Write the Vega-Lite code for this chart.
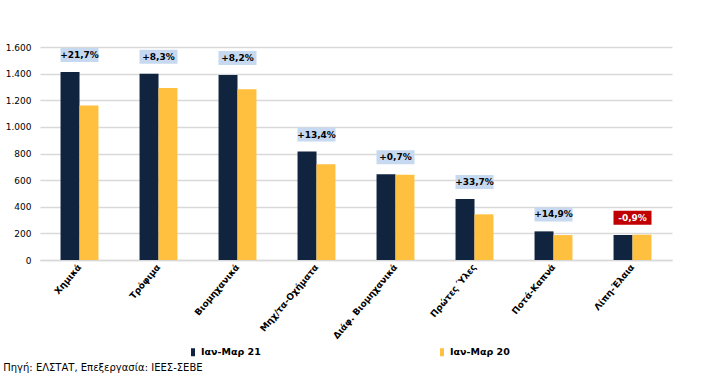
{
  "$schema": "https://vega.github.io/schema/vega-lite/v6.json",
  "width": 632,
  "height": 213,
  "autosize": {"type": "none"},
  "padding": {"left": 40, "top": 47, "right": 36, "bottom": 121},
  "background": "white",
  "config": {
    "locale": {"number": {"decimal": ",", "thousands": ".", "grouping": [3], "currency": ["", "€"]}},
    "view": {"stroke": null},
    "font": "DejaVu Sans"
  },
  "title": {
    "text": "Πηγή: ΕΛΣΤΑΤ, Επεξεργασία: ΙΕΕΣ-ΣΕΒΕ",
    "orient": "bottom",
    "anchor": "start",
    "frame": "bounds",
    "fontSize": 10,
    "fontWeight": "normal",
    "color": "#000000",
    "offset": 6,
    "dx": -2
  },
  "datasets": {
    "bars": [
      {"cat": "Χημικά", "period": "Ιαν-Μαρ 21", "value": 1412},
      {"cat": "Χημικά", "period": "Ιαν-Μαρ 20", "value": 1160},
      {"cat": "Τρόφιμα", "period": "Ιαν-Μαρ 21", "value": 1400},
      {"cat": "Τρόφιμα", "period": "Ιαν-Μαρ 20", "value": 1292},
      {"cat": "Βιομηχανικά", "period": "Ιαν-Μαρ 21", "value": 1389},
      {"cat": "Βιομηχανικά", "period": "Ιαν-Μαρ 20", "value": 1283},
      {"cat": "Μηχ/τα-Οχήματα", "period": "Ιαν-Μαρ 21", "value": 815},
      {"cat": "Μηχ/τα-Οχήματα", "period": "Ιαν-Μαρ 20", "value": 719},
      {"cat": "Διάφ. Βιομηχανικά", "period": "Ιαν-Μαρ 21", "value": 645},
      {"cat": "Διάφ. Βιομηχανικά", "period": "Ιαν-Μαρ 20", "value": 641},
      {"cat": "Πρώτες Ύλες", "period": "Ιαν-Μαρ 21", "value": 459},
      {"cat": "Πρώτες Ύλες", "period": "Ιαν-Μαρ 20", "value": 343},
      {"cat": "Ποτά-Καπνά", "period": "Ιαν-Μαρ 21", "value": 215},
      {"cat": "Ποτά-Καπνά", "period": "Ιαν-Μαρ 20", "value": 187},
      {"cat": "Λίπη-Έλαια", "period": "Ιαν-Μαρ 21", "value": 188},
      {"cat": "Λίπη-Έλαια", "period": "Ιαν-Μαρ 20", "value": 190}
    ],
    "labels": [
      {"cat": "Χημικά", "label": "+21,7%", "change": 21.7, "value": 1412},
      {"cat": "Τρόφιμα", "label": "+8,3%", "change": 8.3, "value": 1400},
      {"cat": "Βιομηχανικά", "label": "+8,2%", "change": 8.2, "value": 1389},
      {"cat": "Μηχ/τα-Οχήματα", "label": "+13,4%", "change": 13.4, "value": 815},
      {"cat": "Διάφ. Βιομηχανικά", "label": "+0,7%", "change": 0.7, "value": 645},
      {"cat": "Πρώτες Ύλες", "label": "+33,7%", "change": 33.7, "value": 459},
      {"cat": "Ποτά-Καπνά", "label": "+14,9%", "change": 14.9, "value": 215},
      {"cat": "Λίπη-Έλαια", "label": "-0,9%", "change": -0.9, "value": 190}
    ]
  },
  "encoding": {
    "x": {
      "field": "cat",
      "type": "nominal",
      "sort": ["Χημικά", "Τρόφιμα", "Βιομηχανικά", "Μηχ/τα-Οχήματα", "Διάφ. Βιομηχανικά", "Πρώτες Ύλες", "Ποτά-Καπνά", "Λίπη-Έλαια"],
      "scale": {"paddingInner": 0.52, "paddingOuter": 0.26},
      "axis": {
        "title": null,
        "ticks": false,
        "domainColor": "#d9d9d9",
        "domainWidth": 1.5,
        "labelAngle": -50,
        "labelFontWeight": "bold",
        "labelFontSize": 9,
        "labelColor": "#000000",
        "labelPadding": 5
      }
    },
    "y": {
      "field": "value",
      "type": "quantitative",
      "scale": {"domain": [0, 1600], "nice": false},
      "axis": {
        "title": null,
        "values": [0, 200, 400, 600, 800, 1000, 1200, 1400, 1600],
        "format": ",d",
        "domain": false,
        "ticks": false,
        "gridColor": "#d9d9d9",
        "gridWidth": 1.5,
        "labelFontSize": 9,
        "labelColor": "#000000",
        "labelPadding": 9,
        "labelOverlap": false
      }
    }
  },
  "layer": [
    {
      "data": {"name": "bars"},
      "mark": {"type": "bar"},
      "encoding": {
        "xOffset": {"field": "period", "sort": ["Ιαν-Μαρ 21", "Ιαν-Μαρ 20"]},
        "color": {
          "field": "period",
          "type": "nominal",
          "scale": {"domain": ["Ιαν-Μαρ 21", "Ιαν-Μαρ 20"], "range": ["#10233f", "#ffbf3f"]},
          "legend": {
            "title": null,
            "orient": "none",
            "direction": "horizontal",
            "legendX": 148,
            "legendY": 300,
            "columnPadding": 176,
            "symbolType": "M-0.5,-1H0.5V1H-0.5Z",
            "symbolSize": 64,
            "labelFontSize": 9.5,
            "labelFontWeight": "bold",
            "labelColor": "#000000",
            "labelOffset": 3
          }
        }
      }
    },
    {
      "data": {"name": "labels"},
      "mark": {"type": "point", "shape": "M-1,-1.263H1V-0.526H-1Z", "filled": true, "size": 1444, "opacity": 1, "strokeWidth": 0},
      "encoding": {
        "fill": {"condition": {"test": "datum.change < 0", "value": "#c00000"}, "value": "#c6d9f0"}
      }
    },
    {
      "data": {"name": "labels"},
      "mark": {"type": "text", "dy": -17, "fontWeight": "bold", "fontSize": 9, "baseline": "middle"},
      "encoding": {
        "text": {"field": "label"},
        "fill": {"condition": {"test": "datum.change < 0", "value": "#ffffff"}, "value": "#000000"}
      }
    }
  ]
}
